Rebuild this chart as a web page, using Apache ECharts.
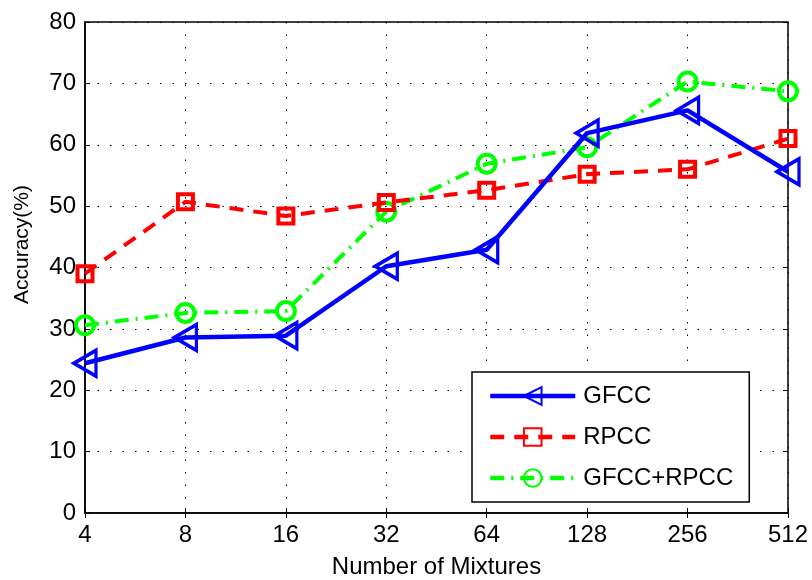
<!DOCTYPE html>
<html><head><meta charset="utf-8">
<script src="https://cdn.jsdelivr.net/npm/echarts@6/dist/echarts.min.js"></script>
<style>html,body{margin:0;padding:0;background:#fff}#c{width:812px;height:580px}</style>
</head><body><div id="c"></div>
<script>
var categories = ['4','8','16','32','64','128','256','512'];
var gfcc = [24.4, 28.6, 28.9, 40.2, 42.9, 61.9, 65.6, 55.6];
var rpcc = [39.0, 50.7, 48.4, 50.6, 52.6, 55.2, 56.0, 61.0];
var gfccRpcc = [30.6, 32.6, 32.9, 49.1, 56.9, 59.6, 70.3, 68.7];
var yTicks = {min: 0, max: 80, interval: 10};

var FONT = '"Liberation Sans", Arial, sans-serif';
var chart = echarts.init(document.getElementById('c'), null, {renderer: 'canvas'});
var dotted = {show: true, lineStyle: {color: '#000', width: 1, type: [1.5, 11]}};
chart.setOption({
  animation: false,
  backgroundColor: '#fff',
  grid: {left: 85, right: 24, top: 22, bottom: 67, outerBoundsMode: 'none', containLabel: false,
         show: true, borderColor: '#000', borderWidth: 1.5, backgroundColor: 'transparent'},
  legend: {
    orient: 'vertical', left: 472, top: 372,
    padding: [12, 16, 12, 16], itemGap: 17, itemWidth: 85, itemHeight: 22,
    borderColor: '#000', borderWidth: 1.5, backgroundColor: '#fff',
    lineStyle: {width: 4.5},
    textStyle: {fontFamily: FONT, fontSize: 24, color: '#000', padding: [0, 0, 0, 3]},
    data: ['GFCC', 'RPCC', 'GFCC+RPCC']
  },
  xAxis: [{
    type: 'category', data: categories, boundaryGap: false,
    name: 'Number of Mixtures', nameLocation: 'middle', nameGap: 42,
    nameTextStyle: {fontFamily: FONT, fontSize: 24, color: '#000'},
    axisLine: {lineStyle: {color: '#000', width: 1.5}},
    axisTick: {inside: true, length: 5, lineStyle: {color: '#000'}},
    axisLabel: {fontFamily: FONT, fontSize: 24, color: '#000', margin: 10},
    splitLine: dotted
  }, {
    type: 'category', data: categories, boundaryGap: false, position: 'top',
    axisLine: {show: false}, axisLabel: {show: false},
    axisTick: {inside: true, length: 5, lineStyle: {color: '#000'}}, splitLine: {show: false}
  }],
  yAxis: [{
    type: 'value', min: yTicks.min, max: yTicks.max, interval: yTicks.interval,
    name: 'Accuracy(%)', nameLocation: 'middle', nameGap: 52, nameRotate: 90,
    nameTextStyle: {fontFamily: '"Liberation Sans Narrow", ' + FONT, fontSize: 21, color: '#000', padding: [0, 0, 0, 46]},
    axisLine: {show: true, lineStyle: {color: '#000', width: 1.5}},
    axisTick: {show: true, inside: true, length: 5, lineStyle: {color: '#000'}},
    axisLabel: {fontFamily: FONT, fontSize: 24, color: '#000', margin: 9},
    splitLine: dotted
  }, {
    type: 'value', min: yTicks.min, max: yTicks.max, interval: yTicks.interval, position: 'right',
    axisLine: {show: false}, axisLabel: {show: false},
    axisTick: {show: true, inside: true, length: 5, lineStyle: {color: '#000'}}, splitLine: {show: false}
  }],
  series: [{
    name: 'GFCC', type: 'line', data: gfcc, clip: false,
    symbol: 'triangle', symbolRotate: 90, symbolSize: [26, 22],
    lineStyle: {color: '#0000ff', width: 4.5, type: 'solid'},
    itemStyle: {color: 'rgba(0,0,0,0)', borderColor: '#0000ff', borderWidth: 3.5},
    z: 4
  }, {
    name: 'RPCC', type: 'line', data: rpcc, clip: false,
    symbol: 'rect', symbolSize: 15,
    lineStyle: {color: '#ff0000', width: 4, type: [14, 10]},
    itemStyle: {color: 'rgba(0,0,0,0)', borderColor: '#ff0000', borderWidth: 4},
    z: 3
  }, {
    name: 'GFCC+RPCC', type: 'line', data: gfccRpcc, clip: false,
    symbol: 'circle', symbolSize: 18,
    lineStyle: {color: '#00ff00', width: 4, type: [14, 7, 2, 7]},
    itemStyle: {color: 'rgba(0,0,0,0)', borderColor: '#00ff00', borderWidth: 4},
    z: 2
  }]
});
</script></body></html>
